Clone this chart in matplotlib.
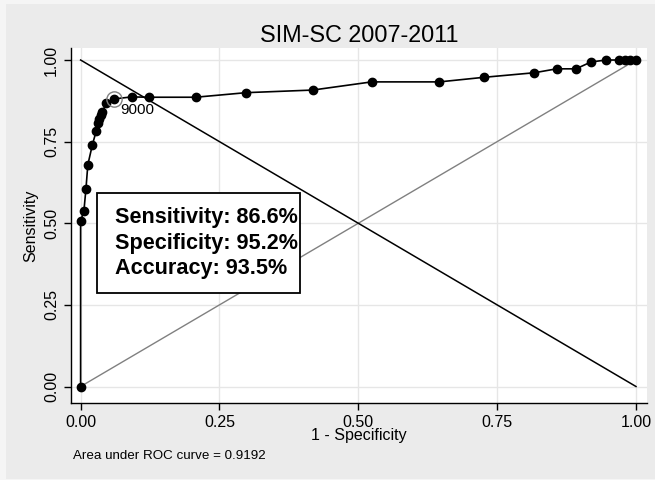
import matplotlib
matplotlib.use("Agg")
import matplotlib.pyplot as plt
from matplotlib.patches import Rectangle

# ROC curve points (1 - specificity, sensitivity)
fpr = [0.0, 0.0, 0.006, 0.0096, 0.013, 0.021, 0.028, 0.032, 0.034, 0.037, 0.039,
       0.046, 0.061, 0.092, 0.123, 0.207, 0.298, 0.418, 0.524, 0.646, 0.726,
       0.817, 0.857, 0.892, 0.919, 0.946, 0.970, 0.980, 0.990, 1.0]
tpr = [0.0, 0.506, 0.539, 0.605, 0.679, 0.739, 0.782, 0.806, 0.818, 0.831, 0.841,
       0.867, 0.881, 0.887, 0.886, 0.886, 0.900, 0.908, 0.933, 0.933, 0.947,
       0.961, 0.973, 0.973, 0.994, 1.0, 1.0, 1.0, 1.0, 1.0]
cut_x, cut_y, cut_label = 0.061, 0.881, "9000"
ticks = [0.0, 0.25, 0.5, 0.75, 1.0]
tick_labels = ["0.00", "0.25", "0.50", "0.75", "1.00"]
title = "SIM-SC 2007-2011"
stats = ["Sensitivity: 86.6%", "Specificity: 95.2%", "Accuracy: 93.5%"]
auc_text = "Area under ROC curve = 0.9192"

plt.rcParams['font.family'] = ['Liberation Sans', 'DejaVu Sans']

fig = plt.figure(figsize=(6.55, 4.8), dpi=100, facecolor="#f5f5f5")
fig.patches.append(Rectangle((6/655, 1/480), 1 - 6/655, 1 - 5/480, transform=fig.transFigure,
                             facecolor="#ebebeb", edgecolor="none", zorder=-10))
ax = fig.add_axes([71/655, 77/480, 576/655, 355/480])
ax.set_facecolor("white")
ax.set_xlim(-0.0173, 1.0198)
ax.set_ylim(-0.0505, 1.0368)

for s in ["top", "right"]:
    ax.spines[s].set_visible(False)
for s in ["left", "bottom"]:
    ax.spines[s].set_color("black")
    ax.spines[s].set_linewidth(1.0)

ax.set_xticks(ticks)
ax.set_xticklabels(tick_labels, fontsize=11.5)
ax.set_yticks(ticks)
ax.set_yticklabels(tick_labels, fontsize=11.5, rotation=90, va="center")
ax.tick_params(direction="out", length=5, width=1, color="black")
ax.grid(True, color="#e6e6e6", linewidth=1)
ax.set_axisbelow(True)

ax.plot([0, 1], [0, 1], color="#808080", lw=1.0, zorder=2)
ax.plot([0, 1], [1, 0], color="black", lw=1.1, zorder=2)
ax.plot(fpr, tpr, color="black", lw=1.2, marker="o", markersize=6, zorder=3)
ax.plot([cut_x], [cut_y], marker="o", markersize=11, markerfacecolor="none",
        markeredgecolor="#808080", markeredgewidth=1.0, zorder=4)
ax.annotate(cut_label, (cut_x, cut_y), xytext=(4, -8), textcoords="offset points",
            fontsize=11, va="center", ha="left")

ax.add_patch(Rectangle((0.03, 0.285), 0.365, 0.309, transform=ax.transData,
                       facecolor="white", edgecolor="black", lw=1.3, zorder=5))
for i, s in enumerate(stats):
    ax.text(0.062, 0.518 - i * 0.079, s, fontsize=15.6, fontweight="bold",
            va="center", ha="left", zorder=6)

ax.set_title(title, fontsize=16.8, pad=4)
ax.set_xlabel("1 - Specificity", fontsize=11.5, labelpad=-1)
ax.set_ylabel("Sensitivity", fontsize=11.5, labelpad=4)
fig.text(73/655, 1 - 456/480, auc_text, fontsize=9.6, va="center", ha="left")

fig.savefig("out.png", dpi=100, facecolor=fig.get_facecolor())
